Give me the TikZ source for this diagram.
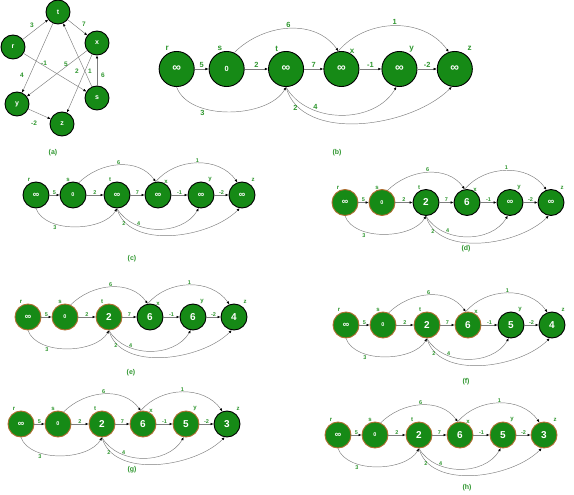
\documentclass[tikz,border=0pt]{standalone}
\usepackage{fontspec}
\setmainfont{Liberation Sans}
\usetikzlibrary{arrows.meta,positioning}

\definecolor{nodegreen}{RGB}{22,138,22}
\definecolor{doneorange}{RGB}{176,108,48}
\definecolor{labelgreen}{RGB}{46,150,46}
\definecolor{edgegrey}{RGB}{125,125,125}

\newcommand{\infval}{{\fontsize{9}{9}\selectfont ∞}}
\newcommand{\zeroval}{{\fontsize{5.5}{5.5}\selectfont 0}}

% one relaxation row: #1 prefix, #2 scope options, #3 how many rings are done, #4-#7 d of t,x,y,z
\newcommand{\relaxrow}[7]{%
  \begin{scope}[#2]
    \foreach \n/\xx/\val/\lx/\ly [count=\i] in
        {r/0/\infval/-7/15, s/37/\zeroval/-5/15, t/81/#4/-7/15,
         x/122/#5/8/13, y/165/#6/9/15, z/206/#7/11/15}{
      \ifnum\i>#3 \def\ringcol{black}\else\def\ringcol{doneorange}\fi
      \node[vertex, draw=\ringcol] (#1\n) at (\xx,0) {\val};
      \node[vname] (#1\n name) at (\xx+\lx,\ly) {\n};
    }
    \draw[edge] (#1r) -- node[weight] (#1w1) {5} (#1s);
    \draw[edge] (#1s) -- node[weight] (#1w2) {2} (#1t);
    \draw[edge] (#1t) -- node[weight] (#1w3) {7} (#1x);
    \draw[edge] (#1x) -- node[weight] (#1w4) {-1} (#1y);
    \draw[edge] (#1y) -- node[weight] (#1w5) {-2} (#1z);
    \draw[edge] (#1s.65) to[out=45,in=125] node[weight] (#1w6) {6} (#1x.100);
    \draw[edge] (#1x.100) to[out=50,in=125] node[weight] (#1w7) {1} (#1z.110);
    \draw[edge] (#1r.-90) to[out=-70,in=-120,looseness=0.85] node[weight,below=1pt,pos=0.3] (#1w8) {3} (#1t.-90);
    \draw[edge] (#1t.-90) to[out=-60,in=-120] node[weight,above,pos=0.3] (#1w9) {4} (#1y.-100);
    \draw[edge] (#1t.-90) to[out=-75,in=-135,looseness=0.9] node[weight,left,pos=0.15] (#1w10) {2} (#1z.-100);
  \end{scope}}

\begin{document}
\begin{tikzpicture}[
    x=1pt, y=1pt,
    vertex/.style={circle, fill=nodegreen, line width=0.9pt, minimum size=26pt, inner sep=0pt,
                   text=white, font=\bfseries\fontsize{10}{10}\selectfont},
    letter/.style={circle, fill=nodegreen, draw=black, line width=0.9pt, minimum size=24pt, inner sep=0pt,
                   text=white, font=\bfseries\fontsize{7}{7}\selectfont},
    vname/.style={text=labelgreen, inner sep=0pt, font=\bfseries\fontsize{6}{6}\selectfont},
    weight/.style={text=labelgreen, above, inner sep=0.6pt, font=\bfseries\fontsize{5.5}{5.5}\selectfont},
    bigweight/.style={text=labelgreen, inner sep=0pt, font=\bfseries\fontsize{6.5}{6.5}\selectfont},
    caption/.style={text=labelgreen, inner sep=0pt, font=\bfseries\fontsize{7}{7}\selectfont},
    edge/.style={-{Latex[length=3pt,width=2.6pt,color=black]}, draw=edgegrey, line width=0.45pt}
  ]
  \useasboundingbox (0,0) rectangle (574,-495);

  % (a) the graph
  \node[letter] (ar) at (13,-47) {r};
  \node[letter] (at) at (58,-12) {t};
  \node[letter] (ax) at (97,-43) {x};
  \node[letter] (ay) at (17,-104) {y};
  \node[letter] (as) at (97,-98) {s};
  \node[letter] (az) at (62,-124) {z};

  \draw[edge] (ar) -- (at);
  \draw[edge] (at) -- (ax);
  \draw[edge] (at) -- (ay);
  \draw[edge] (ax) -- (ay);
  \draw[edge] (ar) -- (as);
  \draw[edge] (as) -- (at);
  \draw[edge] (ax) -- (az);
  \draw[edge] (as) -- (ax);
  \draw[edge] (ay) -- (az);

  \node[bigweight] (aw1) at (32,-25) {3};
  \node[bigweight] (aw2) at (84,-24) {7};
  \node[bigweight] (aw3) at (22,-75) {4};
  \node[bigweight] (aw4) at (44,-63) {-1};
  \node[bigweight] (aw5) at (66,-64) {5};
  \node[bigweight] (aw6) at (77,-71) {2};
  \node[bigweight] (aw7) at (90,-71) {1};
  \node[bigweight] (aw8) at (103,-75) {6};
  \node[bigweight] (aw9) at (34,-123) {-2};

  % (b) to (h) the relaxation steps
  \relaxrow{b}{shift={(176.7,-69)}, scale=1.35, transform shape}{0}{\infval}{\infval}{\infval}{\infval}
  \relaxrow{c}{shift={(36,-195)}}{0}{\infval}{\infval}{\infval}{\infval}
  \relaxrow{d}{shift={(345,-202.5)}}{2}{2}{6}{\infval}{\infval}
  \relaxrow{e}{shift={(28,-317)}}{3}{2}{6}{6}{4}
  \relaxrow{f}{shift={(346,-325)}}{4}{2}{6}{5}{4}
  \relaxrow{g}{shift={(21,-424)}}{5}{2}{6}{5}{3}
  \relaxrow{h}{shift={(338,-435)}}{6}{2}{6}{5}{3}

  \node[caption] (capa) at (53,-153) {(a)};
  \node[caption] (capb) at (337,-153) {(b)};
  \node[caption] (capc) at (132,-259) {(c)};
  \node[caption] (capd) at (466,-249) {(d)};
  \node[caption] (cape) at (131,-373) {(e)};
  \node[caption] (capf) at (466,-382) {(f)};
  \node[caption] (capg) at (132,-470) {(g)};
  \node[caption] (caph) at (467,-488) {(h)};
\end{tikzpicture}
\end{document}
